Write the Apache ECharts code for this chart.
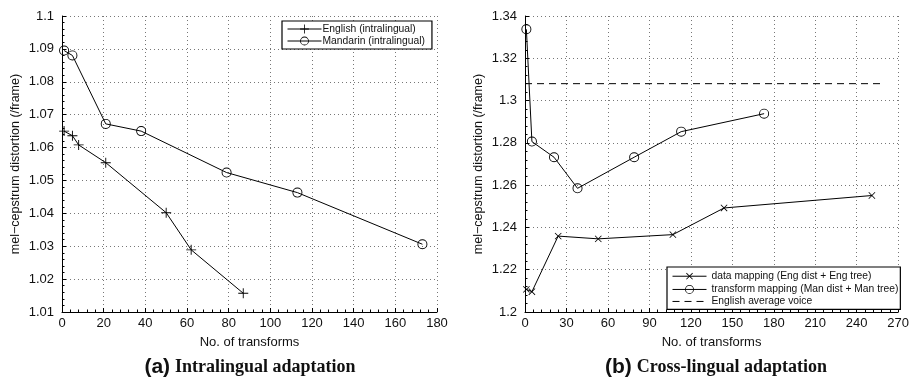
<!DOCTYPE html>
<html><head><meta charset="utf-8">
<script src="https://cdn.jsdelivr.net/npm/echarts@6/dist/echarts.min.js"></script>
<style>html,body{margin:0;padding:0;background:#fff}#c{width:912px;height:384px}</style>
</head><body><div id="c"></div>
<script>
// Panel (a): intralingual
const engX = [1, 5, 8, 21, 50, 62, 87];
const engY = [1.065, 1.0636, 1.0608, 1.0554, 1.0402, 1.0289, 1.0157];
const manX = [1, 5, 21, 38, 79, 113, 173];
const manY = [1.0895, 1.088, 1.0672, 1.065, 1.0524, 1.0463, 1.0306];
// Panel (b): cross-lingual
const dataMapX = [1, 5, 24, 53, 107, 144, 251];
const dataMapY = [1.2107, 1.2096, 1.2359, 1.2346, 1.2366, 1.2492, 1.2551];
const transMapX = [1, 5, 21, 38, 79, 113, 173];
const transMapY = [1.3337, 1.2806, 1.2732, 1.2585, 1.2732, 1.2853, 1.2938];
const avgX = [0, 260];
const avgY = [1.308, 1.308];

const names = ['English (intralingual)', 'Mandarin (intralingual)',
  'data mapping (Eng dist + Eng tree)', 'transform mapping (Man dist + Man tree)', 'English average voice'];
const captions = [['(a)', 'Intralingual adaptation'], ['(b)', 'Cross-lingual adaptation']];
const xName = 'No. of transforms';
const yName = 'mel\u2212cepstrum distortion (/frame)';

const zip = (xs, ys) => xs.map((x, i) => [x, ys[i]]);
const SANS = '"Liberation Sans", Arial, Helvetica, sans-serif';
const plus = 'path://M0,4.55H10V5.45H0Z M4.55,0H5.45V10H4.55Z';
const ring = 'path://M5,0A5,5 0 1,1 5,10A5,5 0 1,1 5,0Z M5,0.9A4.1,4.1 0 1,0 5,9.1A4.1,4.1 0 1,0 5,0.9Z';

function xAxis(gi, max, interval) {
  return {
    type: 'value', gridIndex: gi, min: 0, max, interval,
    name: xName, nameLocation: 'middle', nameGap: 24,
    nameTextStyle: { fontFamily: SANS, fontSize: 13, color: '#111' },
    axisLine: { lineStyle: { color: '#000', width: 1 } },
    axisTick: { inside: true, length: 4, lineStyle: { color: '#000' } },
    minorTick: { show: true, splitNumber: 5, length: 2.5, lineStyle: { color: '#000' } },
    axisLabel: { fontFamily: SANS, fontSize: 13, color: '#111', margin: 5 },
    splitLine: { show: true, lineStyle: { color: '#777', type: [1, 3], width: 1 } }
  };
}
function yAxis(gi, min, max, interval) {
  return {
    type: 'value', gridIndex: gi, min, max, interval,
    name: yName, nameLocation: 'middle', nameGap: 40,
    nameTextStyle: { fontFamily: SANS, fontSize: 12.5, color: '#111' },
    axisLine: { show: true, lineStyle: { color: '#000', width: 1 } },
    axisTick: { show: true, inside: true, length: 4, lineStyle: { color: '#000' } },
    minorTick: { show: true, splitNumber: 5, length: 2.5, lineStyle: { color: '#000' } },
    axisLabel: { fontFamily: SANS, fontSize: 13, color: '#111', margin: 8 },
    splitLine: { show: true, lineStyle: { color: '#777', type: [1, 3], width: 1 } }
  };
}
function lineSeries(name, xi, data, symbol, extra) {
  return Object.assign({
    name, type: 'line', xAxisIndex: xi, yAxisIndex: xi, data, symbol,
    symbolSize: 9, showSymbol: true, clip: false, animation: false,
    lineStyle: { color: '#000', width: 1 },
    itemStyle: { color: '#000', borderWidth: 0 }
  }, extra || {});
}
const legendBase = {
  orient: 'vertical', itemWidth: 34, itemHeight: 11, itemGap: 2,
  borderColor: '#000', borderWidth: 1.2, backgroundColor: '#fff',
  lineStyle: { width: 1 },
  textStyle: { fontFamily: SANS, fontSize: 10.3, color: '#111' }
};

const chart = echarts.init(document.getElementById('c'), null, { renderer: 'canvas' });
chart.setOption({
  animation: false,
  backgroundColor: '#fff',
  grid: [
    { left: 62, top: 16, width: 375, height: 296 },
    { left: 525, top: 16, width: 375, height: 296 }
  ],
  xAxis: [xAxis(0, 180, 20), xAxis(1, 270, 30)],
  yAxis: [yAxis(0, 1.01, 1.1, 0.01), yAxis(1, 1.2, 1.34, 0.02)],
  legend: [
    Object.assign({}, legendBase, {
      data: [names[0], names[1]], left: 282, top: 21, padding: [3, 7, 3, 5],
      textStyle: Object.assign({}, legendBase.textStyle, { padding: [0, 0, 0, -4] })
    }),
    Object.assign({}, legendBase, {
      data: [names[2], names[3], { name: names[4], itemStyle: { opacity: 0 } }],
      left: 667, top: 267, padding: [3, 2, 3, 5], itemGap: 2
    })
  ],
  title: captions.map((c, i) => ({
    text: '{a|' + c[0] + '} {b|' + c[1] + '}',
    left: i === 0 ? 245 : 711, top: 352, textAlign: 'center',
    textStyle: {
      rich: {
        a: { fontFamily: SANS, fontWeight: 'bold', fontSize: 21, color: '#111' },
        b: { fontFamily: '"Liberation Serif", "Times New Roman", serif', fontSize: 18, color: '#111' }
      }
    }
  })),
  series: [
    lineSeries(names[0], 0, zip(engX, engY), plus, { symbolSize: 10 }),
    lineSeries(names[1], 0, zip(manX, manY), ring, { symbolSize: 10 }),
    lineSeries(names[2], 1, zip(dataMapX, dataMapY), plus, { symbolSize: 9, symbolRotate: 45 }),
    lineSeries(names[3], 1, zip(transMapX, transMapY), ring, { symbolSize: 10 }),
    lineSeries(names[4], 1, zip(avgX, avgY), 'none', { lineStyle: { color: '#000', width: 1, type: [7, 5] } })
  ]
});
</script></body></html>
